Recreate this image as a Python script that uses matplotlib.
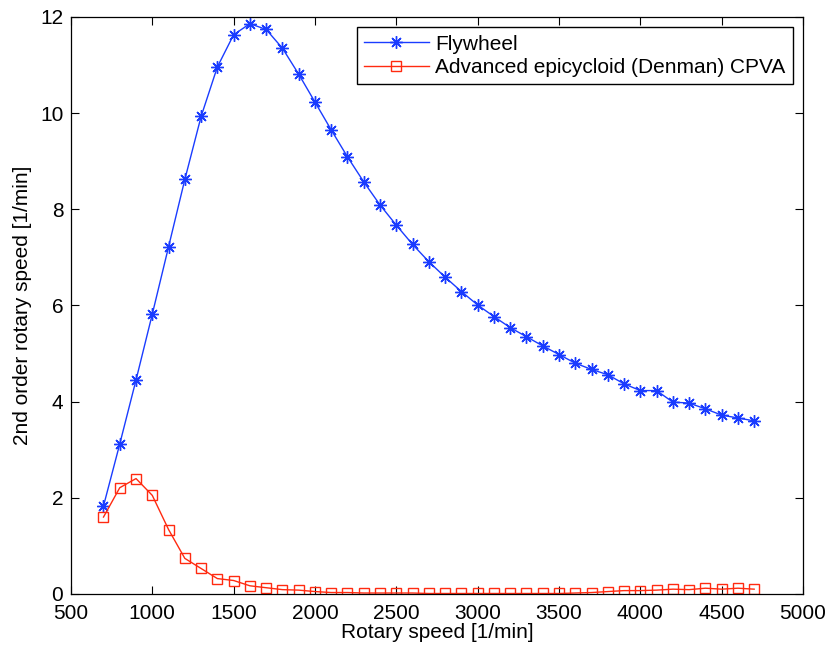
import numpy as np
import matplotlib.pyplot as plt

plt.rcParams['font.family'] = ['Liberation Sans', 'DejaVu Sans']

# Rotary speed [1/min]
rpm = np.arange(700, 4701, 100)

# Flywheel, 2nd order rotary speed
flywheel = [1.83, 3.12, 4.45, 5.82, 7.22, 8.62, 9.93, 10.96, 11.63, 11.86,
            11.74, 11.35, 10.81, 10.23, 9.65, 9.09, 8.57, 8.09, 7.67, 7.27,
            6.91, 6.59, 6.29, 6.01, 5.77, 5.54, 5.35, 5.16, 4.98, 4.80,
            4.67, 4.56, 4.37, 4.23, 4.23, 3.99, 3.97, 3.85, 3.72, 3.66, 3.60]

# Advanced epicycloid (Denman) CPVA
cpva = [1.60, 2.21, 2.40, 2.05, 1.34, 0.74, 0.53, 0.32, 0.28, 0.17,
        0.13, 0.09, 0.08, 0.05, 0.03, 0.03, 0.02, 0.02, 0.02, 0.02,
        0.01, 0.01, 0.01, 0.01, 0.01, 0.01, 0.01, 0.01, 0.01, 0.02,
        0.03, 0.05, 0.07, 0.07, 0.08, 0.10, 0.09, 0.12, 0.10, 0.12, 0.10]

fig = plt.figure(figsize=(8.29, 6.52), dpi=100)
ax = fig.add_axes([0.0856, 0.089, 0.883, 0.885])

# MATLAB-like asterisk marker (8 arms)
asterisk = (8, 2, 0)

ax.plot(rpm, flywheel, color='#1a3cff', lw=1.0, marker=asterisk, markersize=9,
        markeredgewidth=1.0, label='Flywheel')
ax.plot(rpm, cpva, color='#ff2a10', lw=1.0, marker='s', markersize=7.5,
        markerfacecolor='none', markeredgewidth=1.0,
        label='Advanced epicycloid (Denman) CPVA')

ax.set_xlim(500, 5000)
ax.set_ylim(0, 12)
ax.set_xticks(np.arange(500, 5001, 500))
ax.set_yticks(np.arange(0, 13, 2))
ax.tick_params(direction='in', top=True, right=True, labelsize=15, length=6,
               width=0.8)
ax.tick_params(axis='x', pad=7)
ax.tick_params(axis='y', pad=5.5)
for s in ax.spines.values():
    s.set_linewidth(0.9)
ax.set_xlabel('Rotary speed [1/min]', fontsize=15, labelpad=0)
ax.set_ylabel('2nd order rotary speed [1/min]', fontsize=15, labelpad=6)

leg = ax.legend(loc='upper right', fontsize=15, fancybox=False, framealpha=1,
                edgecolor='black', borderaxespad=0.5, handlelength=3.1,
                handletextpad=0.3, labelspacing=0.2, borderpad=0.35)
leg.get_frame().set_linewidth(1.0)

fig.savefig('out.png', dpi=100)
